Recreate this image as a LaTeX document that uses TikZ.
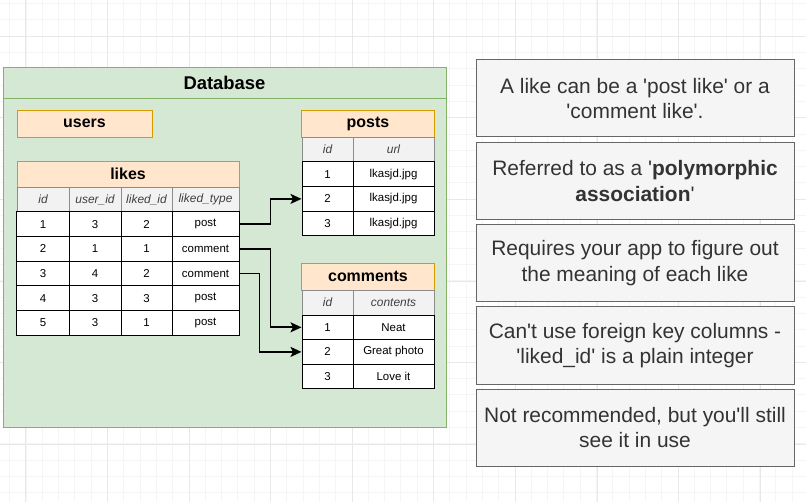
\documentclass[tikz,border=0pt]{standalone}
\usepackage{fontspec}
\setmainfont{Liberation Sans}
\usepackage{tikz}
\usetikzlibrary{arrows.meta, positioning}
\definecolor{dbgreen}{HTML}{D5E8D4}
\definecolor{dbborder}{HTML}{82B366}
\definecolor{hdrfill}{HTML}{FFE6CC}
\definecolor{hdrline}{HTML}{D79B00}
\definecolor{colgray}{HTML}{F2F2F2}
\definecolor{notefill}{HTML}{F5F5F5}
\definecolor{noteline}{HTML}{666666}
\definecolor{notetext}{HTML}{333333}
\definecolor{gridminor}{HTML}{F5F5F5}
\definecolor{gridmajor}{HTML}{E8E8E8}
\newcommand{\sq}{\textquotesingle}
\tikzset{
  tblhead/.style={rectangle,draw=hdrline,fill=hdrfill,inner sep=0pt,
    minimum width=#1,minimum height=26.5bp,font=\bfseries\fontsize{16}{18}\selectfont},
  colcell/.style={rectangle,draw=black!45,fill=colgray,inner sep=0pt,text=black!75,
    minimum width=#1,minimum height=25bp,font=\itshape\fontsize{12}{14}\selectfont},
  datacell/.style={rectangle,draw=black,fill=white,inner sep=0pt,line width=1bp,
    minimum width=#1,minimum height=24.6bp,font=\fontsize{11.5}{13}\selectfont},
  note/.style={rectangle,draw=noteline,fill=notefill,text=notetext,align=center,
    minimum width=318bp,minimum height=77bp,inner sep=0pt,line width=1bp,
    font=\fontsize{21}{25.5}\selectfont},
  link/.style={-{Stealth[length=11bp,width=10bp,inset=2.5bp]},line width=1.7bp,black},
}

\begin{document}
\begin{tikzpicture}[x=1bp,y=-1bp]
  \useasboundingbox (0,0) rectangle (806,502);
  \fill[white] (0,0) rectangle (806,502);
  % canvas grid
  \foreach \g in {9.5,25.8,...,806} \draw[gridminor,line width=0.6bp] (\g,0) -- (\g,502);
  \foreach \g in {3.5,19.8,...,502} \draw[gridminor,line width=0.6bp] (0,\g) -- (806,\g);
  \foreach \g in {25.8,107.4,...,806} \draw[gridmajor,line width=0.7bp] (\g,0) -- (\g,502);
  \foreach \g in {36.1,117.7,...,502} \draw[gridmajor,line width=0.7bp] (0,\g) -- (806,\g);

  % database container
  \draw[dbborder,fill=dbgreen,line width=0.9bp] (3,67) rectangle (446,427);
  \draw[dbborder,line width=0.9bp] (3,98) -- (446,98);
  \node[font=\bfseries\fontsize{18.5}{20}\selectfont] (db) at (224.5,83) {Database};

  \node[tblhead=135bp] (users) at (84.5,123.5) {users};

  % likes
  \node[tblhead=222bp] (likes) at (128,174) {likes};
  \foreach \cx/\w/\txt [count=\j] in {43/52/id, 95/52/user\_id, 146.5/51/liked\_id, 205.5/67/liked\_type}
    \node[colcell=\w bp] (lh\j) at (\cx,199.5) {\txt};
  \foreach \a/\b/\c/\d [count=\i] in {1/3/2/post, 2/1/1/comment, 3/4/2/comment, 4/3/3/post, 5/3/1/post} {
    \pgfmathsetmacro{\ry}{212+24.6*(\i-1)+12.3}
    \node[datacell=52bp] (la\i) at (43,\ry) {\a};
    \node[datacell=52bp] (lb\i) at (95,\ry) {\b};
    \node[datacell=51bp] (lc\i) at (146.5,\ry) {\c};
    \node[datacell=67bp] (lt\i) at (205.5,\ry) {\d};
  }

  % posts
  \node[tblhead=133bp] (posts) at (368,123.5) {posts};
  \node[colcell=51bp] (ph1) at (327.5,149.5) {id};
  \node[colcell=81bp] (ph2) at (393.5,149.5) {url};
  \foreach \i in {1,2,3} {
    \pgfmathsetmacro{\ry}{162+24.6*(\i-1)+12.3}
    \node[datacell=51bp] (p\i) at (327.5,\ry) {\i};
    \node[datacell=81bp] (pu\i) at (393.5,\ry) {lkasjd.jpg};
  }

  % comments
  \node[tblhead=133bp] (comments) at (368,276.5) {comments};
  \node[colcell=51bp] (ch1) at (327.5,302.5) {id};
  \node[colcell=81bp] (ch2) at (393.5,302.5) {contents};
  \foreach \txt [count=\i] in {Neat, Great photo, Love it} {
    \pgfmathsetmacro{\ry}{315+24.6*(\i-1)+12.3}
    \node[datacell=51bp] (c\i) at (327.5,\ry) {\i};
    \node[datacell=81bp] (cc\i) at (393.5,\ry) {\txt};
  }

  \draw[link] (lt1.east) -- ++(31,0) |- (p2.west);
  \draw[link] (lt2.east) -- ++(31,0) |- (c1.west);
  \draw[link] (lt3.east) -- ++(20,0) |- (c2.west);

  % notes
  \node[note] (n1) at (635,98.5) {A like can be a \sq post like\sq{} or a\\\sq comment like\sq.};
  \node[note] (n2) at (635,181) {Referred to as a \sq\textbf{polymorphic}\\\textbf{association}\sq};
  \node[note] (n3) at (635,263) {Requires your app to figure out\\the meaning of each like};
  \node[note] (n4) at (635,345.5) {Can\sq t use foreign key columns -\\\sq liked\_id\sq{} is a plain integer};
  \node[note] (n5) at (635,427.5) {Not recommended, but you\sq ll still\\see it in use};
\end{tikzpicture}
\end{document}
